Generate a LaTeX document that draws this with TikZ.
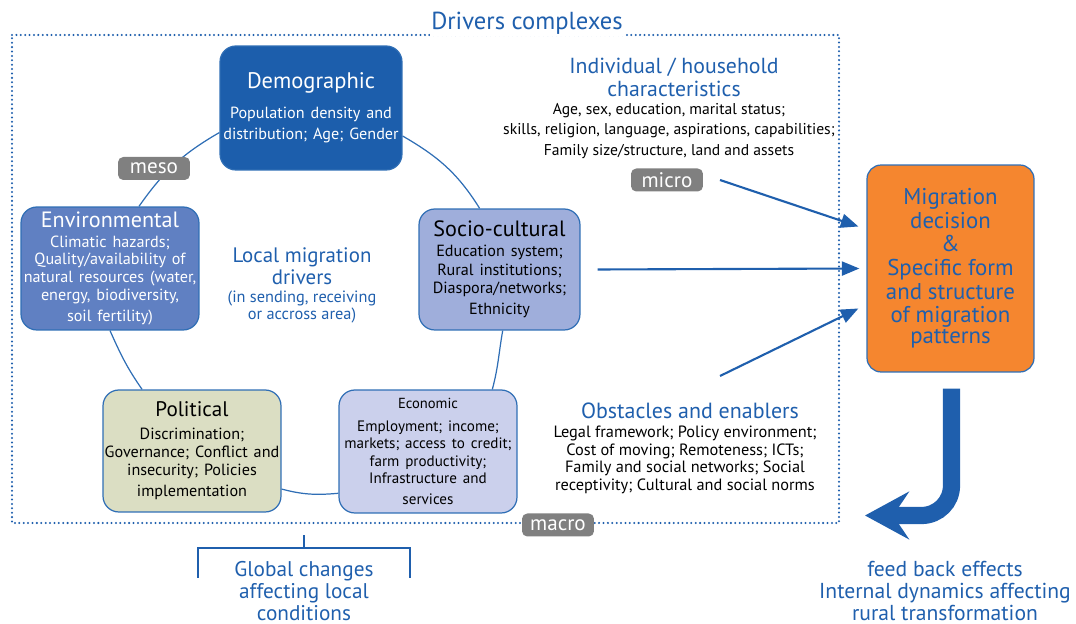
\documentclass[tikz,border=0pt]{standalone}
\usepackage{fontspec}
\setmainfont{PT Sans}
\usetikzlibrary{arrows.meta,backgrounds,calc}

\definecolor{fablue}{HTML}{1F5FAD}
\definecolor{edgeblue}{HTML}{2F6EB5}
\definecolor{demofill}{HTML}{1C5EAC}
\definecolor{envfill}{HTML}{6080C2}
\definecolor{sociofill}{HTML}{9FAEDB}
\definecolor{ecofill}{HTML}{CBD0EC}
\definecolor{polfill}{HTML}{DBDEC3}
\definecolor{orangebox}{HTML}{F5862F}
\definecolor{taggray}{HTML}{808080}

\newcommand{\fsz}[2]{\fontsize{#1}{#2}\selectfont}

\tikzset{
  driver/.style={draw=edgeblue, line width=0.7pt, rounded corners=9pt, align=center, inner xsep=0pt, inner ysep=2pt},
  tag/.style={fill=taggray, text=white, rounded corners=3pt, inner sep=1pt,
    minimum width=1.44cm, minimum height=0.46cm, font=\fsz{12pt}{13pt}},
  ring/.style={draw=edgeblue, line width=0.7pt},
  frame/.style={draw=fablue, line width=1.3pt, dash pattern=on 0pt off 2.5pt, line cap=round},
  push/.style={draw=fablue, line width=1.2pt, -{Triangle[length=10pt,width=8pt]}},
  uturn/.style={draw=fablue, line width=9.8pt, -{Stealth[length=25pt,width=27pt,inset=9pt]}},
  bluetext/.style={text=fablue, align=center, inner sep=0pt},
  plaintext/.style={text=black, align=center, inner sep=0pt},
}

\begin{document}
\begin{tikzpicture}[x=0.02cm, y=-0.02cm]
        \useasboundingbox (0,0) rectangle (1076,624);

            % 五个驱动因素
            \node[driver, fill=demofill, text=white, minimum width=3.64cm, minimum height=2.48cm, text width=3.64cm] (demo) at (311,108)
                {\fsz{12.8pt}{14pt}Demographic\par\vspace{5pt}\fsz{9.2pt}{12pt}Population density and\\distribution; Age; Gender};
            \node[driver, fill=sociofill, minimum width=3.22cm, minimum height=2.42cm, text width=3.22cm] (socio) at (499.5,269.5)
                {\fsz{12.6pt}{14pt}Socio-cultural\par\vspace{1pt}\fsz{9.2pt}{10.4pt}Education system;\\Rural institutions;\\Diaspora/networks;\\Ethnicity};
            \node[driver, fill=envfill, text=white, minimum width=3.56cm, minimum height=2.46cm, text width=3.56cm] (env) at (110,268.5)
                {\fsz{12.6pt}{13pt}Environmental\par\vspace{1pt}\fsz{9.2pt}{10pt}Climatic hazards;\\Quality/availability of\\natural resources (water,\\energy, biodiversity,\\soil fertility)};
            \node[driver, fill=polfill, minimum width=3.56cm, minimum height=2.44cm, text width=3.56cm] (pol) at (192,451)
                {\fsz{12pt}{13pt}Political\par\vspace{3pt}\fsz{9.2pt}{10.2pt}Discrimination;\\Governance; Conflict and\\insecurity; Policies\\implementation};
            \node[driver, fill=ecofill, minimum width=3.56cm, minimum height=2.46cm, text width=3.56cm] (eco) at (428,451.5)
                {\fsz{8.3pt}{9pt}Economic\par\vspace{3pt}\fsz{8.6pt}{10pt}Employment; income;\\markets; access to credit;\\farm productivity;\\Infrastructure and\\services};

            % 迁移决策
            \node[driver, fill=orangebox, text=fablue, rounded corners=8pt, minimum width=3.34cm, minimum height=4.14cm, text width=3.34cm] (mig) at (950.5,268.5)
                {\fsz{13pt}{13.4pt}Migration\\decision\\\&\\Specific form\\and structure\\of migration\\patterns};

            % 标签
            \node[tag] (meso) at (154,168.5) {meso};
            \node[tag] (micro) at (667,180) {micro};
            \node[tag] (macro) at (558,525) {macro};
            \node[bluetext, fill=white, inner sep=1pt, font=\fsz{14pt}{16pt}] (drivers) at (527,23) {Drivers complexes};

            % 文字说明
            \node[bluetext, font=\fsz{12.4pt}{13pt}] (indiv) at (674,77) {Individual / household\\characteristics};
            \node[plaintext, font=\fsz{8.9pt}{11.6pt}] (indivbody) at (669,131) {Age, sex, education, marital status;\\skills, religion, language, aspirations, capabilities;\\Family size/structure, land and assets};
            \node[bluetext, font=\fsz{11.9pt}{12.5pt}] (local) at (302,266) {Local migration\\drivers};
            \node[bluetext, font=\fsz{9.3pt}{10.2pt}] (localsub) at (302,307) {(in sending, receiving\\or accross area)};
            \node[bluetext, font=\fsz{12.5pt}{13pt}] (obst) at (690,411) {Obstacles and enablers};
            \node[plaintext, font=\fsz{9.3pt}{10pt}] (obstbody) at (685,460) {Legal framework; Policy environment;\\Cost of moving; Remoteness; ICTs;\\Family and social networks; Social\\receptivity; Cultural and social norms};
            \node[bluetext, font=\fsz{12.1pt}{12.5pt}] (global) at (304,591) {Global changes\\affecting local\\conditions};
            \node[bluetext, font=\fsz{12.3pt}{12.5pt}] (fback) at (945,591) {feed back effects\\Internal dynamics affecting\\rural transformation};

            % 箭头
            \coordinate (microstart) at (720,180);
            \coordinate (obststart) at (720,376);
            \coordinate (fbtip) at (865,515.5);
            \draw[push] (microstart) -- ($(mig.west)+(-8,-42)$);
            \draw[push] ($(socio.east)+(17,0)$) -- ($(mig.west)+(-7,0)$);
            \draw[push] (obststart) -- ($(mig.west)+(-8,40)$);
            \draw[uturn, rounded corners=17pt] ($(mig.south)+(1,16)$) |- (fbtip);

            % 全球变化的括号
            \draw[fablue, line width=0.7pt] (198,578) |- (410,548) -- (410,578);
            \draw[fablue, line width=0.7pt] (304,548) -- (304,535);

            \begin{pgfonlayer}{background}
                % 虚线框
                \draw[frame] (12,35) -- (839,35) -- (839,523) -- (12,523) -- cycle;
                % 圆环
                \draw[ring] (demo.195) to[out=210,in=55] (env.65);
                \draw[ring] (env.south) to[out=-66,in=125] (pol.129);
                \draw[ring] (pol.-23) to[out=-15,in=185] (eco.205);
                \draw[ring] (eco.44) to[out=75,in=-100] (socio.-87);
                \draw[ring] (socio.108) to[out=122,in=-30] (demo.-17);
            \end{pgfonlayer}

        \end{tikzpicture}
\end{document}
